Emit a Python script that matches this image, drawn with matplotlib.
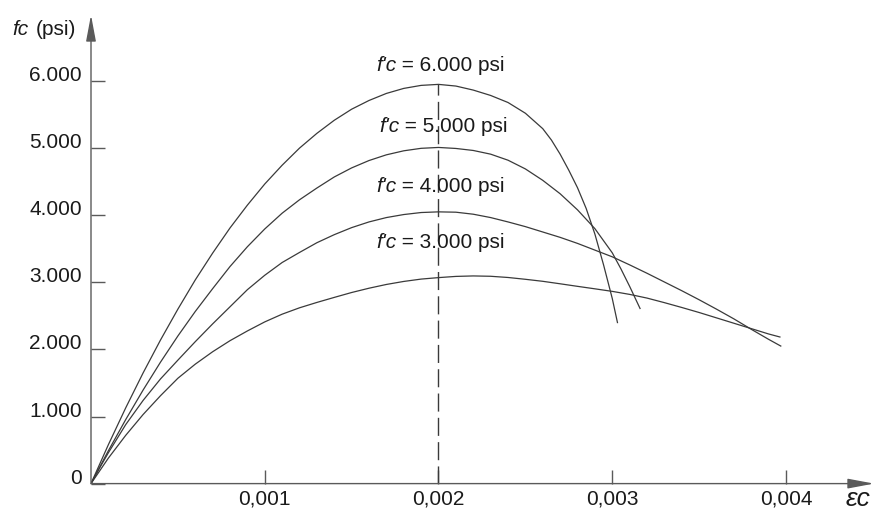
import matplotlib.pyplot as plt

plt.rcParams['font.family'] = ['Liberation Sans', 'DejaVu Sans']

# stress-strain points (strain, psi)
strain_6000 = [0, 0.0001, 0.0002, 0.0003, 0.0004, 0.0005, 0.0006, 0.0007, 0.0008, 0.0009,
               0.0010, 0.0011, 0.0012, 0.0013, 0.0014, 0.0015, 0.0016, 0.0017, 0.0018, 0.0019,
               0.0020, 0.0021, 0.0022, 0.0023, 0.0024, 0.0025, 0.0026, 0.00265, 0.0027, 0.00275,
               0.0028, 0.00285, 0.0029, 0.00295, 0.0030, 0.00303]
stress_6000 = [0, 580, 1130, 1650, 2140, 2600, 3035, 3435, 3810, 4150,
               4465, 4745, 5000, 5220, 5415, 5580, 5710, 5815, 5890, 5935,
               5950, 5925, 5865, 5785, 5680, 5520, 5290, 5120, 4910, 4670,
               4410, 4100, 3720, 3260, 2760, 2400]

strain_5000 = [0, 0.0001, 0.0002, 0.0003, 0.0004, 0.0005, 0.0006, 0.0007, 0.0008, 0.0009,
               0.0010, 0.0011, 0.0012, 0.0013, 0.0014, 0.0015, 0.0016, 0.0017, 0.0018, 0.0019,
               0.0020, 0.0021, 0.0022, 0.0023, 0.0024, 0.0025, 0.0026, 0.0027, 0.0028, 0.0029,
               0.0030, 0.00305, 0.0031, 0.00316]
stress_5000 = [0, 490, 955, 1395, 1810, 2200, 2565, 2905, 3235, 3530,
               3795, 4030, 4230, 4405, 4570, 4705, 4815, 4900, 4960, 4997,
               5010, 4995, 4965, 4910, 4820, 4690, 4520, 4320, 4080, 3800,
               3440, 3200, 2940, 2610]

strain_4000 = [0, 0.00005, 0.0001, 0.0002, 0.0003, 0.0004, 0.0005, 0.0006, 0.0007, 0.0008,
               0.0009, 0.0010, 0.0011, 0.0012, 0.0013, 0.0014, 0.0015, 0.0016, 0.0017, 0.0018,
               0.0019, 0.0020, 0.0021, 0.0022, 0.0023, 0.0024, 0.0025, 0.0026, 0.0027, 0.0028,
               0.0029, 0.0030, 0.0031, 0.0032, 0.0033, 0.0034, 0.0035, 0.0036, 0.0037, 0.0038,
               0.0039, 0.00397]
stress_4000 = [0, 235, 460, 880, 1240, 1560, 1840, 2115, 2380, 2635,
               2890, 3105, 3295, 3445, 3590, 3710, 3815, 3900, 3965, 4010,
               4040, 4050, 4045, 4015, 3965, 3900, 3830, 3750, 3670, 3580,
               3480, 3380, 3260, 3135, 3005, 2875, 2740, 2600, 2455, 2300,
               2150, 2050]

strain_3000 = [0, 0.0001, 0.0002, 0.0003, 0.0004, 0.0005, 0.0006, 0.0007, 0.0008, 0.0009,
               0.0010, 0.0011, 0.0012, 0.0013, 0.0014, 0.0015, 0.0016, 0.0017, 0.0018, 0.0019,
               0.0020, 0.0021, 0.0022, 0.0023, 0.0024, 0.0025, 0.0026, 0.0027, 0.0028, 0.0029,
               0.0030, 0.0031, 0.0032, 0.0033, 0.0034, 0.0035, 0.0036, 0.0037, 0.0038, 0.0039,
               0.003965]
stress_3000 = [0, 380, 720, 1030, 1310, 1570, 1780, 1965, 2130, 2275,
               2410, 2525, 2620, 2700, 2775, 2848, 2912, 2968, 3013, 3048,
               3070, 3088, 3095, 3090, 3072, 3045, 3015, 2978, 2940, 2903,
               2865, 2820, 2765, 2697, 2625, 2550, 2470, 2390, 2310, 2230,
               2185]

curve_labels = ["6.000", "5.000", "4.000", "3.000"]
label_strain = [0.00164, 0.001658, 0.00164, 0.00164]
label_stress = [6238, 5329, 4425, 3586]

x_ticks = [0.001, 0.002, 0.003, 0.004]
x_tick_labels = ["0,001", "0,002", "0,003", "0,004"]
y_ticks = [0, 1000, 2000, 3000, 4000, 5000, 6000]
y_tick_labels = ["0", "1.000", "2.000", "3.000", "4.000", "5.000", "6.000"]

eps_peak = 0.002
dash_top = 5950

axis_color = '#5a5a5a'
curve_color = '#3a3a3a'
text_color = '#1a1a1a'

fig = plt.figure(figsize=(8.77, 5.11), dpi=100)
ax = fig.add_axes([91 / 877, 27.4 / 511, 783 / 877, 468.6 / 511])
ax.set_xlim(0, 0.0045065)
ax.set_ylim(0, 6984)
for s in ax.spines.values():
    s.set_visible(False)

for xs, ys in [(strain_6000, stress_6000), (strain_5000, stress_5000),
               (strain_4000, stress_4000), (strain_3000, stress_3000)]:
    ax.plot(xs, ys, color=curve_color, lw=0.9, solid_joinstyle='round')

ax.vlines(eps_peak, 0, dash_top, colors=curve_color, lw=1.0, linestyles=(0, (13, 4.5)))

# axes with arrow heads
arrow = dict(arrowstyle='-|>,head_length=1.6,head_width=0.3', mutation_scale=10,
             lw=1.0, color=axis_color, shrinkA=0, shrinkB=0)
ax.annotate('', xy=(1, 0), xytext=(0, 0), xycoords='axes fraction', arrowprops=arrow,
            annotation_clip=False)
ax.annotate('', xy=(0, 1), xytext=(0, 0), xycoords='axes fraction', arrowprops=arrow,
            annotation_clip=False)

ax.set_xticks(x_ticks, x_tick_labels)
ax.set_yticks(y_ticks, y_tick_labels)
ax.tick_params(direction='in', length=10, width=1, color=axis_color,
               labelsize=15, labelcolor=text_color)
ax.tick_params(axis='x', pad=4)
ax.tick_params(axis='y', pad=6.5)
for t in ax.get_yticklabels():
    t.set_va('baseline')

for lab, xs, ys in zip(curve_labels, label_strain, label_stress):
    t = ax.text(xs, ys, "f'c", style='italic', fontsize=15, va='center', ha='left',
                color=text_color)
    ax.annotate(f" = {lab} psi", xy=(1, 0), xycoords=t, va='bottom', ha='left',
                fontsize=15, color=text_color)

# axis titles
fig.text(12.7 / 877, 1 - 35 / 511, "fc", style='italic', fontsize=15, va='baseline',
         color=text_color)
fig.text(36 / 877, 1 - 35 / 511, "(psi)", fontsize=15, va='baseline', color=text_color)
fig.text(846 / 877, 1 - 499 / 511, "εc", style='italic', fontsize=19, va='center',
         color=text_color)

fig.savefig('out.png', dpi=100)
